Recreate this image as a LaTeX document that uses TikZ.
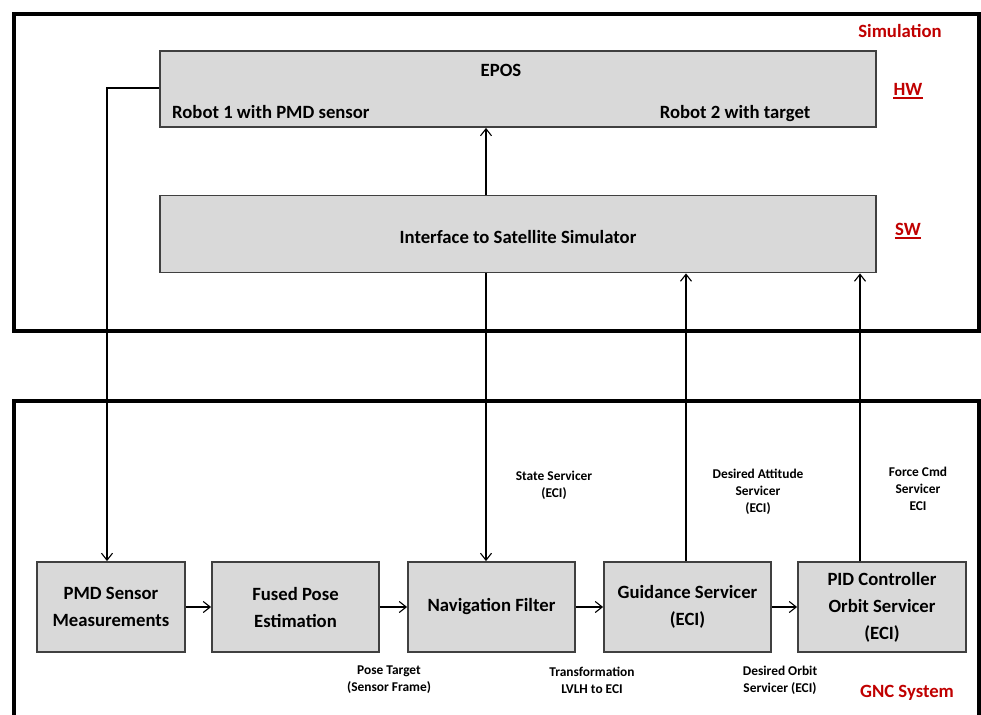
\documentclass[tikz,border=0pt]{standalone}
\usepackage{fontspec}
\setmainfont{Carlito}
\usetikzlibrary{arrows.meta}
\definecolor{boxgray}{HTML}{D9D9D9}
\definecolor{boxedge}{HTML}{404040}
\definecolor{darkred}{HTML}{C00000}
\begin{document}
\begin{tikzpicture}[x=1pt,y=-1pt,
  bigfont/.style={font=\fontsize{18.7}{27}\selectfont\bfseries},
  smallfont/.style={font=\fontsize{13.4}{17}\selectfont\bfseries},
  gbox/.style={draw=boxedge,line width=1.8,fill=boxgray,inner sep=0,align=center,bigfont},
  frame/.style={draw=black,line width=4},
  conn/.style={draw=black,line width=1.1},
  tip/.style={-{Straight Barb[length=7,width=11,line width=1.1]}},
  lbl/.style={smallfont,align=center,inner sep=0},
  redlbl/.style={bigfont,text=darkred,inner sep=0}
]
\useasboundingbox (0,0) rectangle (981,714);
\clip (0,0) rectangle (981,714);
% frames
\draw[frame] (14,14) rectangle (979,331);
\draw[frame] (14,401) rectangle (979,760);
% top boxes
\node[gbox,minimum width=716,minimum height=76] (epos) at (518,89) {};
\node[gbox,minimum width=716,minimum height=77] (iface) at (518,234) {};
\node[bigfont,inner sep=0] (eposT) at (501,70) {EPOS};
\node[bigfont,inner sep=0,anchor=base west] (r1) at (172,119) {Robot 1 with PMD sensor};
\node[bigfont,inner sep=0,anchor=base] (r2) at (735,119) {Robot 2 with target};
\node[bigfont,inner sep=0] (ifaceT) at (518,237) {Interface to Satellite Simulator};
% red labels
\node[redlbl] (sim) at (900,31) {Simulation};
\node[redlbl] (hw) at (908,89) {HW};
\draw[darkred,line width=2.2] ([yshift=-3]hw.base west) -- ([yshift=-3]hw.base east);
\node[redlbl] (sw) at (908,229) {SW};
\draw[darkred,line width=2.2] ([yshift=-3]sw.base west) -- ([yshift=-3]sw.base east);
\node[redlbl] (gnc) at (907,693) {GNC System};
% bottom boxes
\node[gbox,minimum width=148,minimum height=90] (pmd) at (111,607) {PMD Sensor\\Measurements};
\node[gbox,minimum width=167,minimum height=90] (fused) at (295.5,607) {Fused Pose\\Estimation};
\node[gbox,minimum width=167,minimum height=90] (nav) at (491.5,607) {Navigation Filter};
\node[gbox,minimum width=167,minimum height=90] (guid) at (687.5,607) {Guidance Servicer\\(ECI)};
\node[gbox,minimum width=168,minimum height=90] (pid) at (882,607) {PID Controller\\Orbit Servicer\\(ECI)};
% coordinates
\coordinate (c1) at (107,88);
% connectors
\draw[conn,tip] (iface.north -| 486,0) -- (epos.south -| 486,0);
\draw[conn,tip] (epos.west |- c1) -- (c1) -- (pmd.north -| c1);
\draw[conn,tip] (iface.south -| 486,0) -- (nav.north -| 486,0);
\draw[conn,tip] (guid.north -| 686,0) -- (iface.south -| 686,0);
\draw[conn,tip] (pid.north -| 860,0) -- (iface.south -| 860,0);
\draw[conn,tip] (pmd.east) -- (fused.west);
\draw[conn,tip] (fused.east) -- (nav.west);
\draw[conn,tip] (nav.east) -- (guid.west);
\draw[conn,tip] (guid.east) -- (pid.west);
% labels
\node[lbl] (l1) at (554,485) {State Servicer\\(ECI)};
\node[lbl] (l2) at (758,492) {Desired Attitude\\Servicer\\(ECI)};
\node[lbl] (l3) at (918,489) {Force Cmd\\Servicer\\ECI};
\node[lbl] (l4) at (389,680) {Pose Target\\(Sensor Frame)};
\node[lbl] (l5) at (592,680) {Transformation\\LVLH to ECI};
\node[lbl] (l6) at (780,680) {Desired Orbit\\Servicer (ECI)};
\end{tikzpicture}
\end{document}
